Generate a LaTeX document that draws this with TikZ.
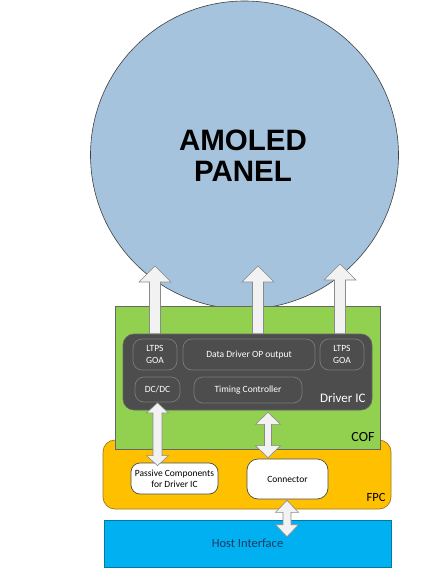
\documentclass[tikz,border=0pt]{standalone}
\usepackage{fontspec}
\setmainfont{Carlito}
\newfontfamily\titlefont{Liberation Sans}
\usetikzlibrary{calc}
\definecolor{panelblue}{HTML}{A5C3DD}
\definecolor{cofgreen}{HTML}{92D050}
\definecolor{icgray}{HTML}{4D4D4D}
\definecolor{icedge}{HTML}{7A7A7A}
\definecolor{fpcorange}{HTML}{FFC000}
\definecolor{fpcedge}{HTML}{9C7A1A}
\definecolor{hostblue}{HTML}{00B0F0}
\definecolor{hosttext}{HTML}{1F3864}
\definecolor{arrfill}{HTML}{F2F2F2}
\definecolor{arredge}{HTML}{8A8A8A}
\tikzset{
  arr/.style={fill=arrfill,draw=arredge,line width=0.6pt,line join=miter},
  inbox/.style={draw=icedge,fill=icgray,rounded corners=9pt,line width=0.7pt,text=white,
    font=\fontsize{9.5}{11}\selectfont,align=center,inner sep=0pt},
  whitebox/.style={draw=black!70,fill=white,rounded corners=9pt,line width=0.7pt,
    font=\fontsize{9.5}{11}\selectfont,align=center,inner sep=0pt},
}
\newcommand{\uparrowblock}[5]{%
  \path[arr] let \p1=#1, \p2=#2 in
   (\x1,\y1) -- ({\x1+#4pt},{\y1-#5pt}) -- ({\x1+#3pt},{\y1-#5pt}) -- ({\x1+#3pt},\y2)
   -- ({\x1-#3pt},\y2) -- ({\x1-#3pt},{\y1-#5pt}) -- ({\x1-#4pt},{\y1-#5pt}) -- cycle;}
\newcommand{\dblarrowblock}[5]{%
  \path[arr] let \p1=#1, \p2=#2 in
   (\x1,\y1) -- ({\x1+#4pt},{\y1-#5pt}) -- ({\x1+#3pt},{\y1-#5pt})
   -- ({\x1+#3pt},{\y2+#5pt}) -- ({\x1+#4pt},{\y2+#5pt}) -- (\x1,\y2)
   -- ({\x1-#4pt},{\y2+#5pt}) -- ({\x1-#3pt},{\y2+#5pt})
   -- ({\x1-#3pt},{\y1-#5pt}) -- ({\x1-#4pt},{\y1-#5pt}) -- cycle;}
\begin{document}
\begin{tikzpicture}[x=1pt,y=-1pt]
\useasboundingbox[fill=white] (0,0) rectangle (440,584);
% panel
\node[circle,draw=black!75,fill=panelblue,line width=0.6pt,minimum size=308pt,inner sep=0pt] (panel) at (244.5,155) {};
\node[font=\titlefont\bfseries\fontsize{29.5}{31}\selectfont,align=center] (title) at (243,156) {AMOLED\\PANEL};
% FPC and COF
\node[draw=fpcedge,fill=fpcorange,rounded corners=12pt,line width=0.7pt,minimum width=288pt,minimum height=69pt,inner sep=0pt] (fpc) at (247,474.5) {};
\node[draw=black!60,fill=cofgreen,line width=0.6pt,minimum width=265pt,minimum height=143pt,inner sep=0pt] (cof) at (247.5,377.5) {};
\node[font=\fontsize{14}{14}\selectfont,anchor=east] (coflabel) at (378,437) {COF};
\node[font=\fontsize{12.5}{13}\selectfont,anchor=east] (fpclabel) at (389,497) {FPC};
% Driver IC
\node[draw=black!60,fill=icgray,rounded corners=11pt,line width=0.6pt,minimum width=249pt,minimum height=76pt,inner sep=0pt] (ic) at (247.5,372) {};
\node[inbox,minimum width=44pt,minimum height=31pt] (goal) at (155,354.5) {LTPS\\[1pt]GOA};
\node[inbox,minimum width=132pt,minimum height=31pt] (ddo) at (249,354.5) {Data Driver OP output};
\node[inbox,minimum width=44pt,minimum height=31pt] (goar) at (342,354.5) {LTPS\\[1pt]GOA};
\node[inbox,minimum width=45pt,minimum height=25pt] (dcdc) at (157.5,389.5) {DC/DC};
\node[inbox,minimum width=108pt,minimum height=26pt] (tcon) at (248,390) {Timing Controller};
\node[text=white,font=\fontsize{13}{13}\selectfont,anchor=east] (iclabel) at (369,398) {Driver IC};
% FPC contents
\node[whitebox,minimum width=87pt,minimum height=31pt] (passive) at (174.5,478.5) {Passive Components\\for Driver IC};
\node[whitebox,minimum width=81pt,minimum height=40pt,rounded corners=11pt] (conn) at (287.5,479) {Connector};
% Host
\node[draw=hostblue!70!black,fill=hostblue,line width=0.6pt,minimum width=287pt,minimum height=47pt,inner sep=0pt,
  text=hosttext,font=\fontsize{12.5}{13}\selectfont] (host) at (247.5,543.5) {Host Interface};
% arrow endpoints
\coordinate (tipl) at (155,266);
\coordinate (tipm) at (258,266);
\coordinate (tipr) at (340,264);
\uparrowblock{(tipl)}{(ic.north)}{5.5}{16}{16}
\uparrowblock{(tipm)}{(ic.north)}{5.5}{16}{16}
\uparrowblock{(tipr)}{(ic.north)}{5.5}{16}{16}
\dblarrowblock{($(dcdc.south)+(0,0.5)$)}{($(passive.north)+(-17.5,3)$)}{4.5}{11}{10}
\dblarrowblock{($(ic.south)+(20.5,2)$)}{($(conn.north)+(-19.5,-1)$)}{3.5}{12.5}{12}
\dblarrowblock{($(conn.south)+(-0.5,1)$)}{($(host.north)+(39.5,17)$)}{4}{11.5}{12}
\end{tikzpicture}
\end{document}
